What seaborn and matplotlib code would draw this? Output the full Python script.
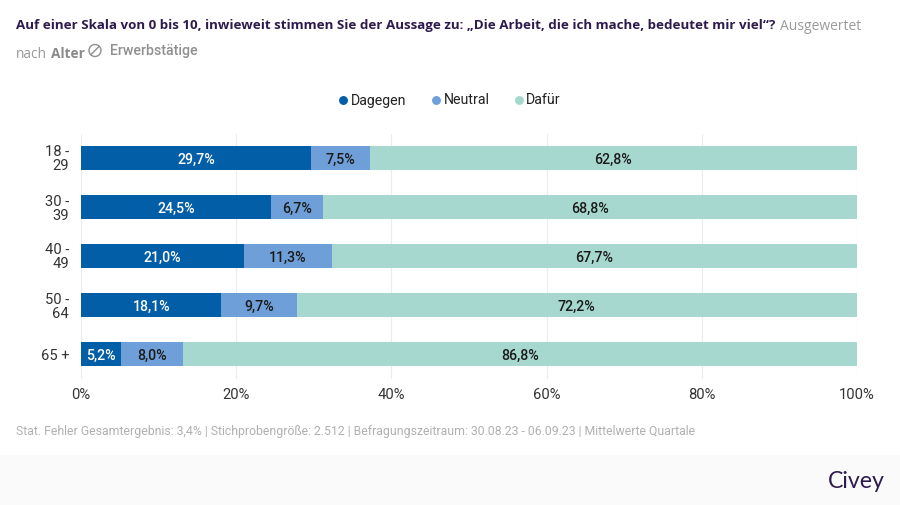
import numpy as np
import pandas as pd
import matplotlib
matplotlib.use("Agg")
import matplotlib.pyplot as plt
from matplotlib.lines import Line2D
from matplotlib.patches import Rectangle, Ellipse
import seaborn as sns

categories = ["18 -\n29", "30 -\n39", "40 -\n49", "50 -\n64", "65 +"]
dagegen = [29.7, 24.5, 21.0, 18.1, 5.2]
neutral = [7.5, 6.7, 11.3, 9.7, 8.0]
dafuer = [62.8, 68.8, 67.7, 72.2, 86.8]
series_names = ["Dagegen", "Neutral", "Dafür"]
series_values = [dagegen, neutral, dafuer]
colors = ["#035ea8", "#6f9fd8", "#a6d8cf"]
label_colors = ["white", "#1a1a1a", "#1a1a1a"]
title_main = "Auf einer Skala von 0 bis 10, inwieweit stimmen Sie der Aussage zu: „Die Arbeit, die ich mache, bedeutet mir viel“?"
title_tail = "Ausgewertet"
sub_a = "nach"
sub_b = "Alter"
sub_c = "Erwerbstätige"
footer = "Stat. Fehler Gesamtergebnis: 3,4% | Stichprobengröße: 2.512 | Befragungszeitraum: 30.08.23 - 06.09.23 | Mittelwerte Quartale"

W, H = 900, 505
sns.set_theme(style="white")
plt.rcParams["font.family"] = ["Roboto", "DejaVu Sans"]
fig = plt.figure(figsize=(W / 100, H / 100), dpi=100, facecolor="white")
ax = fig.add_axes([81 / W, 1 - 378.5 / H, (857 - 81) / W, (378.5 - 133.5) / H])

fig.add_artist(Rectangle((0, 0), 1, 50 / H, transform=fig.transFigure,
                         facecolor="#fafafa", edgecolor="none", zorder=-5))

left = np.zeros(len(categories))
for name, vals, col, lc in zip(series_names, series_values, colors, label_colors):
    df = pd.DataFrame({"Alter": categories, "Wert": vals})
    before = len(ax.patches)
    sns.barplot(data=df, x="Wert", y="Alter", left=left, color=col, saturation=1,
                width=0.51, orient="h", ax=ax, linewidth=0, zorder=3)
    for p, v in zip(ax.patches[before:], vals):
        ax.text(p.get_x() + p.get_width() / 2, p.get_y() + p.get_height() / 2,
                f"{v:.1f}%".replace(".", ","), ha="center", va="center_baseline",
                color=lc, fontsize=10.2, fontweight="medium", zorder=4)
    left = left + np.array(vals)

ax.set_xlim(0, 100)
ax.set_ylim(4.5, -0.5)
ax.set_xlabel("")
ax.set_ylabel("")
ax.set_xticks([0, 20, 40, 60, 80, 100])
ax.set_xticklabels(["0%", "20%", "40%", "60%", "80%", "100%"])
ax.tick_params(axis="x", labelsize=10.6, labelcolor="#333333", length=0, pad=7)
ax.tick_params(axis="y", labelsize=10.6, labelcolor="#333333", length=0, pad=8.5)
for lab in ax.get_yticklabels():
    lab.set_linespacing(1.0)
ax.grid(axis="x", color="#ececec", linewidth=0.8, zorder=0)
ax.grid(axis="y", visible=False)
for s in ax.spines.values():
    s.set_visible(False)

handles = [Line2D([], [], marker="o", linestyle="none", color=c, markersize=5.4) for c in colors]
fig.legend(handles, series_names, loc="center", bbox_to_anchor=(450 / W, 1 - 100.5 / H), ncol=3,
           frameon=False, fontsize=10.2, handlelength=0.6, handletextpad=0.25, columnspacing=1.75,
           labelcolor="#222222", borderpad=0)


def fx(px):
    return px / W


def fy(py):
    return 1 - py / H


renderer = fig.canvas.get_renderer()
dark = "#2d1b4e"
grey = "#9a9a9a"
head_font = ["Open Sans", "DejaVu Sans"]


def fitted(x, y, s, width, **kw):
    t = fig.text(fx(x), fy(y), s, family=head_font, fontsize=10, ha="left", va="center_baseline", **kw)
    t.set_fontsize(10 * width / t.get_window_extent(renderer).width)
    return t


fitted(16, 24, title_main, 760, fontweight="bold", color=dark)
fitted(780, 24, title_tail, 81, color=grey)
fitted(16, 52, sub_a, 31, color=grey)
fitted(51, 52, sub_b, 34, fontweight="bold", color="#8a8a8a")
fig.text(fx(110), fy(49.5), sub_c, fontsize=10.2, fontweight="medium",
         color="#8f8f8f", ha="left", va="center_baseline")
fig.add_artist(Ellipse((fx(95), fy(50.5)), 12 / W, 12 / H, transform=fig.transFigure,
                       facecolor="none", edgecolor="#8f8f8f", linewidth=1))
fig.add_artist(Line2D([fx(91), fx(99)], [fy(54.5), fy(46.5)], transform=fig.transFigure,
                      color="#8f8f8f", linewidth=1))

fig.text(fx(16), fy(430), footer, fontsize=8.8, color="#b0b0b0", ha="left", va="center_baseline")
fig.text(fx(828), fy(479), "Civey", family=["Lato", "DejaVu Sans"], fontsize=16.7,
         color=dark, ha="left", va="center_baseline")

fig.savefig("out.png", dpi=100, facecolor="white")
